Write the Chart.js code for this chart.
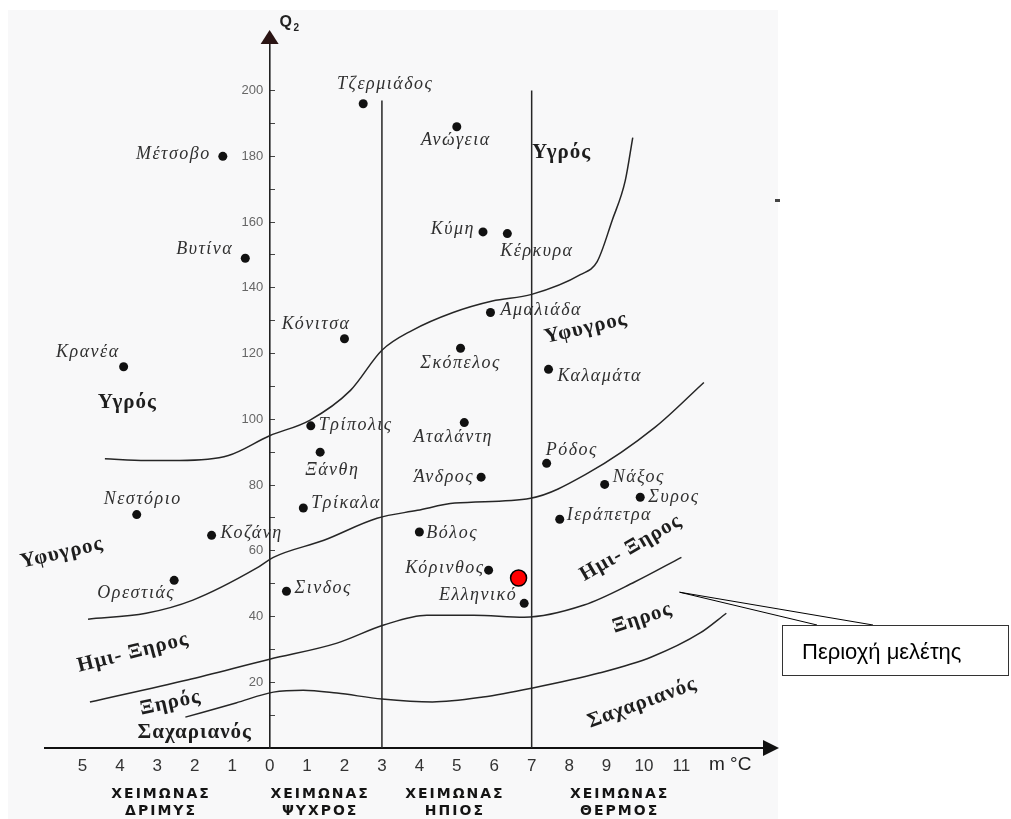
<!DOCTYPE html>
<html>
<head>
<meta charset="utf-8">
<script src="https://cdn.jsdelivr.net/npm/chart.js@4.4.1/dist/chart.umd.min.js"></script>
<style>
  html, body { margin: 0; padding: 0; background: #fff; }
</style>
</head>
<body>
<canvas id="myChart" width="1011" height="819"></canvas>
<script>
// stations (m in °C, Q2)
var stationNames = ['Τζερμιάδος', 'Μέτσοβο', 'Βυτίνα', 'Ανώγεια', 'Κύμη', 'Κέρκυρα', 'Κόνιτσα', 'Κρανέα',
    'Τρίπολις', 'Ξάνθη', 'Τρίκαλα', 'Νεστόριο', 'Κοζάνη', 'Ορεστιάς', 'Σινδος', 'Αμαλιάδα', 'Σκόπελος',
    'Καλαμάτα', 'Αταλάντη', 'Ρόδος', 'Άνδρος', 'Νάξος', 'Συρος', 'Ιεράπετρα', 'Βόλος', 'Κόρινθος', 'Ελληνικό'];
var stationM = [2.5, -1.25, -0.65, 5.0, 5.7, 6.35, 2.0, -3.9,
    1.1, 1.35, 0.9, -3.55, -1.55, -2.55, 0.45, 5.9, 5.1,
    7.45, 5.2, 7.4, 5.65, 8.95, 9.9, 7.75, 4.0, 5.85, 6.8];
var stationQ = [196, 180, 149, 189, 157, 156.5, 124.5, 116,
    98, 90, 73, 71, 64.7, 51, 47.7, 132.5, 121.6,
    115.2, 99, 86.6, 82.4, 80.2, 76.3, 69.6, 65.7, 54.1, 44];

// study area
var studyM = [6.65];
var studyQ = [51.7];

// bioclimatic boundaries
var humidM = [-4.4, -3.3, -2.4, -1.1, 0, 1.07, 2.16, 3.0, 3.8, 4.9, 5.95, 7.0, 8.3, 8.75, 9.15, 9.5, 9.7];
var humidQ = [88, 87.5, 87.5, 89, 95, 99.7, 108.8, 121, 127, 132.5, 136, 138, 144, 148, 160.5, 172.6, 185.7];
var subhumidM = [-4.85, -3.3, -2.05, -0.35, 0.1, 1.45, 2.87, 3.95, 4.95, 6.97, 8.5, 10.3, 11.6];
var subhumidQ = [39.2, 41, 45, 54.7, 58, 63.2, 69.9, 72.3, 74.5, 76, 83.6, 97.6, 111.2];
var semiaridM = [-4.8, -2.2, 0, 1.8, 3.05, 4.2, 5.45, 6.8, 8.4, 9.75, 11.0];
var semiaridQ = [14, 20.7, 27, 31.9, 37.4, 40.4, 40.4, 39.8, 43.5, 50.5, 58];
var aridM = [-2.25, -0.9, 0.1, 0.9, 1.8, 3.0, 4.35, 5.7, 7.0, 8.8, 10.2, 11.5, 12.2];
var aridQ = [9.4, 13.7, 17, 17.6, 16.7, 14.9, 14, 15.5, 18.2, 22.8, 27.7, 35, 41];

// winter type limits
var winterLimits = [3, 7];
var winterTops = [197, 200];

// texts
var zoneNames = ['Υγρός', 'Υγρός', 'Υφυγρος', 'Υφυγρος', 'Ημι- Ξηρος', 'Ημι- Ξηρος', 'Ξηρός', 'Ξηρος', 'Σαχαριανός', 'Σαχαριανός'];
var zoneM = [7.8, -3.8, 8.45, -5.55, -3.65, 9.65, -2.65, 9.95, -2.0, 9.95];
var zoneQ = [181, 105, 127.7, 59.3, 29, 60.8, 13.7, 39.5, 4.6, 13.7];
var winterNames = [['ΧΕΙΜΩΝΑΣ', 'ΔΡΙΜΥΣ'], ['ΧΕΙΜΩΝΑΣ', 'ΨΥΧΡΟΣ'], ['ΧΕΙΜΩΝΑΣ', 'ΗΠΙΟΣ'], ['ΧΕΙΜΩΝΑΣ', 'ΘΕΡΜΟΣ']];
var winterM = [-2.9, 1.35, 4.95, 9.35];
var calloutM = 10.95, calloutQ = 47.4;

// label placement [dx, dy, align]
var labelPlace = [
    [22, -19, 'center'], [-12, -2, 'right'], [-12, -9, 'right'], [-1, 14, 'center'], [-8, -3, 'right'],
    [-7, 18, 'left'], [6, -14, 'right'], [-4, -14, 'right'], [8, -1, 'left'], [-15, 18, 'left'],
    [8, -5, 'left'], [6, -15, 'center'], [9, -2, 'left'], [1, 13, 'right'], [8, -3, 'left'],
    [10, -2, 'left'], [0, 15, 'center'], [9, 7, 'left'], [-11, 15, 'center'], [-1, -13, 'left'],
    [-7, 0, 'right'], [8, -7, 'left'], [8, 0, 'left'], [7, -4, 'left'], [7, 1, 'left'],
    [-4, -2, 'right'], [-7, -8, 'right']
];
var zoneRot = [0, 0, -13, -13, -14, -30, -12, -18, 0, -20];

function pts(xs, ys) {
    return xs.map(function (x, i) { return { x: x, y: ys[i] }; });
}

var ink = '#262626';

function curve(xs, ys) {
    return {
        data: pts(xs, ys), showLine: true, borderColor: ink, borderWidth: 1.5,
        cubicInterpolationMode: 'monotone', pointRadius: 0, fill: false
    };
}

var datasets = [
    curve(humidM, humidQ),
    curve(subhumidM, subhumidQ),
    curve(semiaridM, semiaridQ),
    curve(aridM, aridQ)
];
winterLimits.forEach(function (m, i) {
    datasets.push({
        data: [{ x: m, y: 0 }, { x: m, y: winterTops[i] }], showLine: true,
        borderColor: ink, borderWidth: 1.5, tension: 0, pointRadius: 0
    });
});
datasets.push({
    data: pts(stationM, stationQ), showLine: false, pointRadius: 4.5,
    backgroundColor: '#111', borderWidth: 0
});
datasets.push({
    data: pts(studyM, studyQ), showLine: false, pointRadius: 8,
    backgroundColor: '#ff0000', borderColor: '#000', borderWidth: 1.5
});

var decor = {
    id: 'decor',
    beforeDraw: function (chart) {
        var ctx = chart.ctx;
        ctx.save();
        ctx.fillStyle = '#ffffff';
        ctx.fillRect(0, 0, chart.width, chart.height);
        ctx.fillStyle = '#f8f8f9';
        ctx.fillRect(8, 10, 770, 809);
        ctx.fillStyle = '#444';
        ctx.fillRect(775, 199, 5, 3);
        ctx.restore();
    },
    afterDraw: function (chart) {
        var ctx = chart.ctx;
        var xs = chart.scales.x, ys = chart.scales.y, area = chart.chartArea;
        ctx.save();

        // station labels
        ctx.font = 'italic 18px "Liberation Serif"';
        ctx.letterSpacing = '1.5px';
        ctx.fillStyle = '#303030';
        ctx.textBaseline = 'middle';
        stationNames.forEach(function (name, i) {
            var p = labelPlace[i];
            ctx.textAlign = p[2];
            ctx.fillText(name, xs.getPixelForValue(stationM[i]) + p[0], ys.getPixelForValue(stationQ[i]) + p[1]);
        });

        // zone labels
        ctx.font = 'bold 21px "Liberation Serif"';
        ctx.letterSpacing = '1px';
        ctx.fillStyle = '#1e1e1e';
        ctx.textAlign = 'center';
        zoneNames.forEach(function (name, i) {
            ctx.save();
            ctx.translate(xs.getPixelForValue(zoneM[i]), ys.getPixelForValue(zoneQ[i]));
            ctx.rotate(zoneRot[i] * Math.PI / 180);
            ctx.fillText(name, 0, 0);
            ctx.restore();
        });

        // axis arrows
        var x0 = xs.getPixelForValue(0);
        ctx.fillStyle = '#2a1414';
        ctx.beginPath();
        ctx.moveTo(x0, area.top - 8);
        ctx.lineTo(x0 - 9, area.top + 6);
        ctx.lineTo(x0 + 9, area.top + 6);
        ctx.closePath();
        ctx.fill();
        ctx.fillStyle = '#111';
        ctx.beginPath();
        ctx.moveTo(area.right + 4, area.bottom);
        ctx.lineTo(area.right - 12, area.bottom - 8);
        ctx.lineTo(area.right - 12, area.bottom + 8);
        ctx.closePath();
        ctx.fill();

        // axis titles
        ctx.letterSpacing = '0px';
        ctx.textAlign = 'left';
        ctx.textBaseline = 'alphabetic';
        ctx.fillStyle = '#222';
        ctx.font = 'bold 16px "Liberation Sans"';
        ctx.fillText('Q', x0 + 10, area.top - 11);
        ctx.font = 'bold 10px "Liberation Sans"';
        ctx.fillText('2', x0 + 24, area.top - 7);
        ctx.font = '19px "Liberation Sans"';
        ctx.fillText('m °C', area.right - 66, area.bottom + 22);

        // winter types
        ctx.font = 'bold 14px "DejaVu Sans"';
        ctx.letterSpacing = '2px';
        ctx.textAlign = 'center';
        ctx.fillStyle = '#141414';
        winterNames.forEach(function (lines, i) {
            var px = xs.getPixelForValue(winterM[i]);
            ctx.fillText(lines[0], px, area.bottom + 50);
            ctx.fillText(lines[1], px, area.bottom + 67);
        });

        // study area callout
        var cx = xs.getPixelForValue(calloutM), cy = ys.getPixelForValue(calloutQ);
        ctx.strokeStyle = '#000';
        ctx.lineWidth = 1;
        ctx.beginPath();
        ctx.moveTo(cx, cy); ctx.lineTo(817, 625);
        ctx.moveTo(cx, cy); ctx.lineTo(873, 625);
        ctx.stroke();
        ctx.fillStyle = '#fff';
        ctx.fillRect(782, 625, 226, 50);
        ctx.strokeStyle = '#333';
        ctx.strokeRect(782.5, 625.5, 226, 50);
        ctx.fillStyle = '#000';
        ctx.letterSpacing = '0px';
        ctx.textAlign = 'left';
        ctx.textBaseline = 'alphabetic';
        ctx.font = '22px "Liberation Sans"';
        ctx.fillText('Περιοχή μελέτης', 802, 659);
        ctx.restore();
    }
};

var ctx = document.getElementById('myChart').getContext('2d');
var myChart = new Chart(ctx, {
    type: 'scatter',
    data: { datasets: datasets },
    plugins: [decor],
    options: {
        responsive: false,
        animation: false,
        layout: { padding: { left: 45, right: 236, top: 38, bottom: 0 } },
        plugins: { legend: { display: false }, tooltip: { enabled: false } },
        scales: {
            x: {
                type: 'linear', min: -6, max: 13.5,
                afterBuildTicks: function (s) {
                    var t = [];
                    for (var v = -5; v <= 11; v++) t.push({ value: v });
                    s.ticks = t;
                },
                afterFit: function (s) { s.height = 71; },
                grid: { drawOnChartArea: false, drawTicks: false },
                border: { color: '#111', width: 2 },
                ticks: {
                    padding: 8, color: '#333',
                    font: { family: 'Liberation Sans', size: 17 },
                    callback: function (v) { return String(Math.abs(v)); }
                }
            },
            y: {
                type: 'linear', min: 0, max: 216,
                position: { x: 0 },
                afterBuildTicks: function (s) {
                    var t = [];
                    for (var v = 10; v <= 200; v += 10) t.push({ value: v });
                    s.ticks = t;
                },
                grid: { drawOnChartArea: false, tickLength: -6, color: '#444' },
                border: { color: '#222', width: 1.6 },
                ticks: {
                    padding: 6, color: '#666',
                    font: { family: 'Liberation Sans', size: 13 },
                    callback: function (v) { return v % 20 === 0 ? v + '\u2002' : ''; }
                }
            }
        }
    }
});
</script>
</body>
</html>
